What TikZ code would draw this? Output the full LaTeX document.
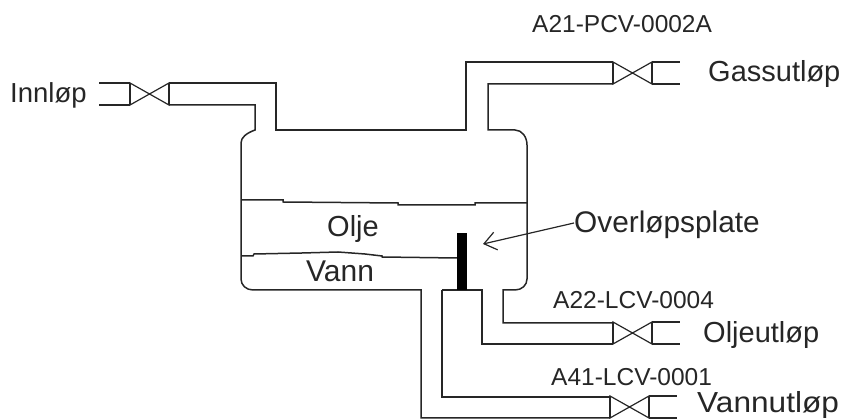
\documentclass[tikz,border=0pt]{standalone}
\usepackage{fontspec}
\setmainfont{Liberation Sans}
\usetikzlibrary{arrows.meta}
\newcommand{\lbl}[1]{\fontsize{#1}{#1}\selectfont}
\tikzset{
  x=1pt,y=-1pt,
  pipe/.style={line width=1.5pt,draw=black!85,line join=miter},
  thinline/.style={line width=1.2pt,draw=black!85},
  bigtext/.style={inner sep=0pt,anchor=base west,text=black!85,font=\lbl{29}},
  tagtext/.style={inner sep=0pt,anchor=base west,text=black!85,font=\lbl{24.5}},
  valve/.pic={
    \draw[thinline] (0,0) -- (39,22) -- (39,0) -- (0,22) -- cycle;
    \draw[pipe] (0,0) -- (0,22) (39,0) -- (39,22);
  }
}
\begin{document}
\begin{tikzpicture}
\useasboundingbox (0,0) rectangle (844,419);
% tank and pipes outline
\draw[pipe] (99,83) -- (130,83) (99,105) -- (130,105);
\pic at (130,83) {valve};
\draw[pipe] (169,83) -- (276,83) -- (276,130) -- (466,130) -- (466,62) -- (613,62);
\pic at (613,62) {valve};
\draw[pipe] (652,62) -- (680,62) (652,84) -- (680,84);
\draw[pipe] (613,84) -- (488,84) -- (488,130) -- (515,130)
  .. controls (522,130) and (527,137) .. (527,145) -- (527,279)
  .. controls (527,285) and (522,290) .. (515,290) -- (503,290) -- (503,323) -- (613,323);
\draw[pipe] (169,105) -- (255,105) -- (255,130)
  .. controls (247,133) and (241,137) .. (241,143) -- (241,279)
  .. controls (241,285) and (246,290) .. (253,290) -- (421,290) -- (421,418) -- (610,418);
\draw[pipe] (442,290) -- (482,290) -- (482,344) -- (613,344);
\draw[pipe] (442,290) -- (442,397) -- (610,397);
\pic at (613,322) {valve};
\draw[pipe] (652,322) -- (680,322) (652,344) -- (680,344);
\pic at (610,396) {valve};
\draw[pipe] (649,396) -- (677,396) (649,418) -- (677,418);
% liquid levels
\draw[pipe] (241,200) -- (283,200) -- (283,202) -- (398,203) -- (398,205) -- (475,205) -- (475,203) -- (527,203);
\draw[pipe] (241,256) -- (253,256) -- (254,254) -- (302,253) -- (338,252) -- (365,254) -- (382,256) -- (382,257) -- (457,258);
% overflow plate
\fill[black] (457,233) rectangle (467,290);
% labels
\node[bigtext,font=\lbl{27.5}] (innlop) at (10,103) {Innløp};
\node[bigtext] (gass) at (708,82) {Gassutløp};
\node[bigtext] (olje) at (327,237) {Olje};
\node[bigtext,font=\lbl{30}] (vann) at (306,282) {Vann};
\node[bigtext,font=\lbl{29.8}] (overlop) at (574,233) {Overløpsplate};
\node[bigtext] (oljeut) at (703,343) {Oljeutløp};
\node[bigtext] (vannut) at (697,412.5) {\scalebox{1.09}[1]{Vannutløp}};
\node[tagtext] (pcv) at (532,33) {A21-PCV-0002A};
\node[tagtext] (lcva) at (553,309) {A22-LCV-0004};
\node[tagtext] (lcvb) at (551,386) {A41-LCV-0001};
\coordinate (tip) at (483,244);
\draw[thinline,-{Straight Barb[length=12pt,width=18pt]}] (overlop.west |- 0,223) -- (tip);
\end{tikzpicture}
\end{document}
